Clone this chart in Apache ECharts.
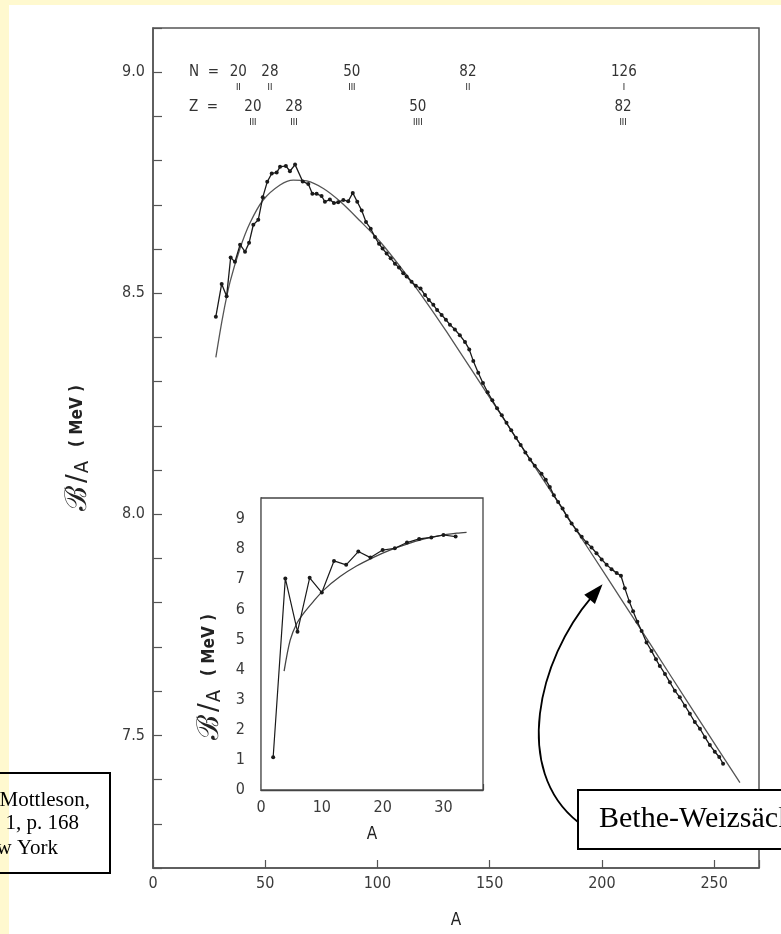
<!DOCTYPE html>
<html>
<head>
<meta charset="utf-8">
<script src="https://cdn.jsdelivr.net/npm/echarts@6/dist/echarts.min.js"></script>
<style>
  html, body { margin: 0; padding: 0; background: #fff; }
  #chart { width: 781px; height: 934px; }
</style>
</head>
<body>
<div id="chart"></div>
<script>
// Binding energy per nucleon of beta-stable nuclei (experimental) vs mass number A
const expA = [28.0, 30.6, 32.8, 34.6, 36.5, 38.8, 41.0, 42.8, 44.7, 46.9, 48.9, 50.9, 52.9, 55.1, 56.6, 59.2,
  61.0, 63.3, 66.7, 69.2, 71.0, 72.9, 75.1, 76.6, 78.8, 80.6, 82.5, 84.8, 87.0, 89.0, 91.0, 93.0, 94.9,
  97.0, 98.9, 100.7, 102.3, 104.1, 105.9, 107.8, 109.6, 111.5, 113.0, 115.2, 117.1, 119.2, 121.2, 122.9,
  124.9, 126.6, 128.6, 130.5, 132.3, 134.5, 136.7, 139.0, 140.9, 142.7, 144.9, 147.0, 149.1, 151.2, 153.3,
  155.4, 157.5, 159.6, 161.7, 163.8, 165.9, 168.0, 170.1, 173.1, 175.0, 176.8, 178.6, 180.5, 182.5, 184.3,
  186.5, 188.7, 191.0, 193.2, 195.4, 197.6, 199.9, 202.1, 204.3, 206.6, 208.5, 210.2, 212.2, 213.9, 215.8,
  217.7, 219.9, 222.1, 224.1, 225.8, 228.1, 230.3, 232.5, 234.7, 237.0, 239.2, 241.4, 243.7, 245.9, 248.1,
  250.3, 252.3, 254.0];
const expB = [8.447, 8.521, 8.493, 8.581, 8.571, 8.610, 8.594, 8.614, 8.655, 8.666, 8.717, 8.752, 8.771, 8.773, 8.786, 8.788,
  8.776, 8.791, 8.753, 8.747, 8.725, 8.725, 8.720, 8.707, 8.712, 8.704, 8.706, 8.711, 8.708, 8.727, 8.707, 8.687, 8.661,
  8.646, 8.627, 8.612, 8.601, 8.590, 8.579, 8.567, 8.558, 8.545, 8.538, 8.526, 8.517, 8.511, 8.496, 8.485,
  8.474, 8.462, 8.451, 8.440, 8.429, 8.418, 8.405, 8.390, 8.373, 8.347, 8.320, 8.297, 8.276, 8.258, 8.240,
  8.224, 8.207, 8.190, 8.173, 8.157, 8.140, 8.124, 8.110, 8.092, 8.078, 8.062, 8.043, 8.028, 8.013, 7.996,
  7.979, 7.964, 7.949, 7.936, 7.925, 7.912, 7.898, 7.886, 7.876, 7.867, 7.861, 7.833, 7.803, 7.781, 7.757,
  7.736, 7.710, 7.691, 7.672, 7.657, 7.639, 7.620, 7.601, 7.586, 7.567, 7.549, 7.530, 7.515, 7.496, 7.478,
  7.463, 7.451, 7.436];

// Semi-empirical (Bethe-Weizsäcker) mass formula curve
const bwA = [28.0, 31.0, 34.3, 38.8, 43.2, 49.1, 56.6, 62.5, 68.5, 75.9, 83.3, 92.2, 101.1, 111.5, 121.9,
  130.8, 142.7, 157.5, 172.4, 187.2, 202.1, 216.9, 231.0, 246.0, 261.5];
const bwB = [8.355, 8.445, 8.525, 8.602, 8.659, 8.711, 8.745, 8.756, 8.754, 8.737, 8.708, 8.664, 8.617, 8.551, 8.479,
  8.413, 8.321, 8.206, 8.090, 7.975, 7.859, 7.743, 7.632, 7.514, 7.393];

// Light nuclei (inset)
const lightA = [2, 4, 6, 8, 10, 12, 14, 16, 18, 20, 22, 24, 26, 28, 30, 32];
const lightB = [1.09, 7.03, 5.26, 7.05, 6.56, 7.61, 7.48, 7.92, 7.72, 7.97, 8.03, 8.22, 8.34, 8.39, 8.47, 8.42];
const lightBwA = [3.8, 4.8, 5.9, 7.0, 8.6, 10.3, 13.0, 15.7, 18.5, 21.2, 24.0, 26.7, 29.4, 32.2, 33.8];
const lightBwB = [3.95, 4.98, 5.54, 5.87, 6.26, 6.64, 7.09, 7.44, 7.73, 7.97, 8.17, 8.33, 8.45, 8.53, 8.56];

// Magic numbers and the mass numbers where they sit
const nMagic = ['20', '28', '50', '82', '126'];
const nMagicA = [38.0, 52.1, 88.6, 140.3, 209.8];
const nMarks = ['II', 'II', 'III', 'II', 'I'];
const zMagic = ['20', '28', '50', '82'];
const zMagicA = [44.5, 62.8, 118.0, 209.4];
const zMarks = ['III', 'III', 'IIII', 'III'];

const pairs = (xs, ys) => xs.map((x, i) => [x, ys[i]]);

const SANS = "'DejaVu Sans Condensed', 'DejaVu Sans', sans-serif";
const SERIF = "'Liberation Serif', 'Times New Roman', serif";
const AXIS = '#555';
const LABEL = '#3a3a3a';

const Y_NAME = '{b|ℬ}{s|/}{a|A}{g|}{m|( MeV )}';
const yNameRich = {
  b: { fontFamily: "'DejaVu Serif', serif", fontSize: 30, color: '#222', verticalAlign: 'middle' },
  s: { fontFamily: "'DejaVu Sans', sans-serif", fontSize: 26, color: '#222', verticalAlign: 'middle', padding: [0, 1, 0, 3] },
  a: { fontFamily: SANS, fontSize: 20, color: '#222', verticalAlign: 'bottom' },
  g: { width: 14 },
  m: { fontFamily: SANS, fontSize: 17, color: '#222', fontWeight: 'bold', verticalAlign: 'middle' }
};

const chart = echarts.init(document.getElementById('chart'), null, { renderer: 'canvas' });

chart.setOption({
  backgroundColor: '#fff',
  animation: false,
  grid: [
    { left: 153, right: 22, top: 28, bottom: 58, show: true, borderColor: AXIS, borderWidth: 1.5, backgroundColor: 'transparent' },
    { left: 261, right: 298, top: 498, bottom: 144, show: true, borderColor: '#444', borderWidth: 1.3, backgroundColor: '#fff', z: 3 }
  ],
  xAxis: [
    {
      type: 'value', gridIndex: 0, min: 0, max: 270, interval: 50,
      splitLine: { show: false },
      axisLine: { lineStyle: { color: AXIS, width: 1.5 } },
      axisTick: { inside: true, length: 8, lineStyle: { color: AXIS, width: 1.2 } },
      axisLabel: { color: LABEL, fontFamily: SANS, fontSize: 16, margin: 8,
        formatter: v => (v % 50 === 0 ? String(v) : '') },
      name: 'A', nameLocation: 'middle', nameGap: 44,
      nameTextStyle: { fontFamily: SANS, fontSize: 17, color: '#222' }
    },
    {
      type: 'value', gridIndex: 1, min: 0, max: 36.5, interval: 10,
      splitLine: { show: false },
      axisLine: { lineStyle: { color: '#444', width: 1.3 } },
      axisTick: { inside: true, length: 6, lineStyle: { color: '#444', width: 1.2 } },
      axisLabel: { color: LABEL, fontFamily: SANS, fontSize: 16, margin: 10,
        formatter: v => (Math.abs(v % 10) < 1e-9 ? String(v) : '') },
      name: 'A', nameLocation: 'middle', nameGap: 36,
      nameTextStyle: { fontFamily: SANS, fontSize: 17, color: '#222' }
    }
  ],
  yAxis: [
    {
      type: 'value', gridIndex: 0, min: 7.2, max: 9.1, interval: 0.1,
      splitLine: { show: false },
      axisLine: { lineStyle: { color: AXIS, width: 1.5 } },
      axisTick: { inside: true, length: 9, lineStyle: { color: AXIS, width: 1.2 } },
      axisLabel: { color: LABEL, fontFamily: SANS, fontSize: 16, margin: 8,
        formatter: v => { const r = Math.round(v * 2); return Math.abs(v * 2 - r) < 1e-6 ? (r / 2).toFixed(1) : ''; } },
      name: Y_NAME, nameLocation: 'middle', nameRotate: 90, nameGap: 60,
      nameTextStyle: { rich: yNameRich }
    },
    {
      type: 'value', gridIndex: 1, min: 0, max: 9.7, interval: 1,
      splitLine: { show: false },
      axisLine: { lineStyle: { color: '#444', width: 1.3 } },
      axisTick: { show: false },
      axisLabel: { color: LABEL, fontFamily: SANS, fontSize: 16, margin: 16,
        formatter: v => (Number.isInteger(v) ? String(v) : '') },
      name: Y_NAME, nameLocation: 'middle', nameRotate: 90, nameGap: 36,
      nameTextStyle: { rich: yNameRich, padding: [0, 66, 0, 0] }
    }
  ],
  series: [
    {
      name: 'Bethe-Weizsäcker', type: 'line', xAxisIndex: 0, yAxisIndex: 0,
      data: pairs(bwA, bwB), smooth: 0.3, symbol: 'none',
      lineStyle: { color: '#555', width: 1.3 }, z: 2
    },
    {
      name: 'experiment', type: 'line', xAxisIndex: 0, yAxisIndex: 0,
      data: pairs(expA, expB), symbol: 'circle', symbolSize: 4, showAllSymbol: true,
      itemStyle: { color: '#1a1a1a' }, lineStyle: { color: '#1a1a1a', width: 1.3 }, z: 3
    },
    {
      name: 'Bethe-Weizsäcker (light)', type: 'line', xAxisIndex: 1, yAxisIndex: 1,
      data: pairs(lightBwA, lightBwB), smooth: 0.3, symbol: 'none',
      lineStyle: { color: '#444', width: 1.3 }, z: 4
    },
    {
      name: 'experiment (light)', type: 'line', xAxisIndex: 1, yAxisIndex: 1,
      data: pairs(lightA, lightB), symbol: 'circle', symbolSize: 4, showAllSymbol: true,
      itemStyle: { color: '#1a1a1a' }, lineStyle: { color: '#1a1a1a', width: 1.2 }, z: 5
    }
  ]
});

// Annotations placed from data coordinates
const px = (a, b) => chart.convertToPixel({ gridIndex: 0 }, [a, b]);
const graphics = [];

// page edge strips
graphics.push({ type: 'rect', left: 0, top: 0, shape: { width: 781, height: 5 }, style: { fill: '#fff9cf' }, z: 0 });
graphics.push({ type: 'rect', left: 0, top: 0, shape: { width: 9, height: 934 }, style: { fill: '#fff9cf' }, z: 0 });

// magic-number rows
const rowN = 72, rowNMark = 88, rowZ = 107, rowZMark = 123;
const txt = (x, y, s, size, align, color) => ({
  type: 'text', x: x, y: y, z: 10,
  style: { text: s, fontFamily: SANS, fontSize: size, fill: color || '#333', align: align || 'center', verticalAlign: 'middle' }
});
graphics.push(txt(189, rowN, 'N  =', 15, 'left'));
graphics.push(txt(189, rowZ, 'Z  =', 15, 'left'));
nMagic.forEach((s, i) => {
  const x = px(nMagicA[i], 9)[0];
  graphics.push(txt(x, rowN, s, 15));
  graphics.push(txt(x, rowNMark, nMarks[i], 9, 'center', '#111'));
});
zMagic.forEach((s, i) => {
  const x = px(zMagicA[i], 9)[0];
  graphics.push(txt(x, rowZ, s, 15));
  graphics.push(txt(x, rowZMark, zMarks[i], 9, 'center', '#111'));
});

// reference box (left)
graphics.push({ type: 'rect', shape: { x: -10, y: 773, width: 120, height: 100 }, style: { fill: 'none', stroke: '#000', lineWidth: 2 }, z: 10 });
const refLines = ['Bohr and Mottleson,', 'Nuclear Structure, Vol. 1, p. 168', 'Benjamin, New York'];
const refRight = [90, 79, 58];
const refY = [800, 823, 848];
refLines.forEach((s, i) => graphics.push({
  type: 'text', x: refRight[i], y: refY[i], z: 11,
  style: { text: s, fontFamily: SERIF, fontSize: 21, fill: '#000', align: 'right', verticalAlign: 'middle' }
}));

// Bethe-Weizsäcker label box with curved arrow to the formula curve
graphics.push({ type: 'rect', shape: { x: 578, y: 790, width: 230, height: 59 }, style: { fill: '#fff', stroke: '#000', lineWidth: 2 }, z: 10 });
graphics.push({
  type: 'text', x: 599, y: 819, z: 11,
  style: { text: 'Bethe-Weizsäcker', fontFamily: SERIF, fontSize: 30, fill: '#000', align: 'left', verticalAlign: 'middle' }
});
const tip = px(200.3, 7.842);
const start = [578, 822];
const c1 = [512, 770];
const c2 = [538, 660];
const dx = tip[0] - c2[0], dy = tip[1] - c2[1];
const len = Math.hypot(dx, dy), ux = dx / len, uy = dy / len;
const headLen = 20, headHalf = 7;
const base = [tip[0] - ux * headLen, tip[1] - uy * headLen];
graphics.push({
  type: 'bezierCurve', z: 10,
  shape: { x1: start[0], y1: start[1], cpx1: c1[0], cpy1: c1[1], cpx2: c2[0], cpy2: c2[1], x2: base[0] + ux * 3, y2: base[1] + uy * 3 },
  style: { stroke: '#000', lineWidth: 1.8, fill: 'none' }
});
graphics.push({
  type: 'polygon', z: 10,
  shape: { points: [tip, [base[0] - uy * headHalf, base[1] + ux * headHalf], [base[0] + uy * headHalf, base[1] - ux * headHalf]] },
  style: { fill: '#000' }
});

chart.setOption({ graphic: graphics });
</script>
</body>
</html>
